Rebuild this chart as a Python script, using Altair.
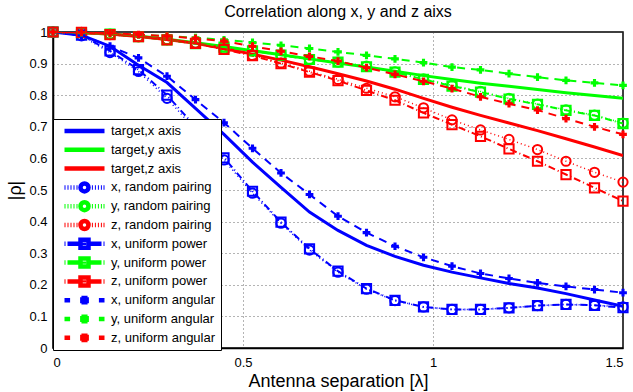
import altair as alt
import pandas as pd

# separation in wavelengths
sep = [0, 0.075, 0.15, 0.225, 0.3, 0.375, 0.45, 0.525, 0.6, 0.675, 0.75,
       0.825, 0.9, 0.975, 1.05, 1.125, 1.2, 1.275, 1.35, 1.425, 1.5]

tgt_x = [1.0, 0.99, 0.955, 0.895, 0.84, 0.758, 0.676, 0.588, 0.508, 0.43, 0.372,
         0.325, 0.29, 0.262, 0.24, 0.222, 0.204, 0.19, 0.172, 0.152, 0.132]
tgt_y = [1.0, 0.998, 0.994, 0.987, 0.977, 0.966, 0.954, 0.941, 0.928, 0.915, 0.902,
         0.889, 0.876, 0.862, 0.85, 0.838, 0.828, 0.818, 0.808, 0.799, 0.79]
tgt_z = [1.0, 0.998, 0.994, 0.986, 0.976, 0.964, 0.948, 0.93, 0.911, 0.89, 0.868,
         0.845, 0.819, 0.79, 0.762, 0.736, 0.712, 0.688, 0.662, 0.636, 0.609]

rp_x = [1.0, 0.988, 0.935, 0.875, 0.79, 0.69, 0.595, 0.49, 0.395, 0.31, 0.24,
        0.186, 0.15, 0.13, 0.122, 0.122, 0.127, 0.134, 0.138, 0.135, 0.13]
rp_y = [1.0, 0.998, 0.993, 0.985, 0.976, 0.965, 0.953, 0.941, 0.928, 0.914, 0.905,
        0.892, 0.874, 0.852, 0.831, 0.812, 0.79, 0.772, 0.754, 0.737, 0.712]
rp_z = [1.0, 0.999, 0.992, 0.985, 0.976, 0.965, 0.946, 0.926, 0.902, 0.876, 0.85,
        0.822, 0.795, 0.76, 0.722, 0.69, 0.66, 0.628, 0.591, 0.556, 0.525]

up_x = [1.0, 0.99, 0.94, 0.881, 0.8, 0.7, 0.602, 0.496, 0.398, 0.314, 0.243,
        0.188, 0.151, 0.13, 0.122, 0.122, 0.127, 0.134, 0.138, 0.135, 0.128]
up_y = [1.0, 0.998, 0.993, 0.985, 0.975, 0.963, 0.952, 0.94, 0.927, 0.913, 0.905,
        0.89, 0.873, 0.85, 0.829, 0.81, 0.788, 0.771, 0.752, 0.736, 0.71]
up_z = [1.0, 0.999, 0.992, 0.985, 0.975, 0.964, 0.945, 0.925, 0.9, 0.873, 0.846,
        0.815, 0.784, 0.744, 0.707, 0.67, 0.63, 0.591, 0.549, 0.507, 0.465]

ua_x = [1.0, 0.99, 0.955, 0.918, 0.86, 0.786, 0.713, 0.632, 0.554, 0.486, 0.417,
        0.365, 0.322, 0.287, 0.259, 0.236, 0.22, 0.206, 0.195, 0.185, 0.175]
ua_y = [1.0, 0.998, 0.995, 0.991, 0.987, 0.982, 0.975, 0.967, 0.958, 0.948, 0.937,
        0.926, 0.915, 0.903, 0.889, 0.88, 0.868, 0.857, 0.847, 0.839, 0.831]
ua_z = [1.0, 0.999, 0.996, 0.992, 0.987, 0.98, 0.971, 0.955, 0.939, 0.923, 0.908,
        0.887, 0.866, 0.844, 0.821, 0.795, 0.773, 0.753, 0.726, 0.7, 0.676]

names = ["target,x axis", "target,y axis", "target,z axis",
         "x, random pairing", "y, random pairing", "z, random pairing",
         "x, uniform power", "y, uniform power", "z, uniform power",
         "x, uniform angular", "y, uniform angular", "z, uniform angular"]
series_vals = [tgt_x, tgt_y, tgt_z, rp_x, rp_y, rp_z, up_x, up_y, up_z, ua_x, ua_y, ua_z]
groups = ["target"] * 3 + ["random"] * 3 + ["power"] * 3 + ["angular"] * 3
axis_colors = ["#0000ff", "#00ff00", "#ff0000"]
colors = axis_colors * 4

rows = []
for i, (nm, vals) in enumerate(zip(names, series_vals)):
    for j, (xv, yv) in enumerate(zip(sep, vals)):
        rows.append({"x": xv, "y": yv, "series": nm, "group": groups[i],
                     "color": colors[i], "order": i * 100 + j})
df = pd.DataFrame(rows)

# legend symbol paths (unit box -1..1)
dots_l = "M-1,0h0.05M-0.85,0h0.05M-0.7,0h0.05M-0.55,0h0.05M-0.4,0h0.05"
dots_r = "M0.37,0h0.05M0.52,0h0.05M0.67,0h0.05M0.82,0h0.05M0.95,0h0.05"
circ = "M-0.2,0A0.2,0.2 0 1,1 0.2,0A0.2,0.2 0 1,1 -0.2,0"
p_solid = "M-1,0H1"
p_random = dots_l + circ + dots_r
p_power = "M-1,0h0.05M-0.85,0H-0.2M-0.2,-0.2H0.2V0.2H-0.2ZM-0.03,-0.06V0.06M0.2,0H0.85M0.95,0h0.05"
p_ang = ("M-1,0H-0.72M-0.22,0H0.22M0,-0.22V0.22M-0.22,0.04H0.22M-0.22,-0.04H0.22"
         "M-0.04,-0.22V0.22M0.04,-0.22V0.22M0.72,0H1")
paths = [p_solid] * 3 + [p_random] * 3 + [p_power] * 3 + [p_ang] * 3
widths = [4.5] * 3 + [1.5] * 3 + [2] * 3 + [2] * 3

xs = alt.X("x:Q", scale=alt.Scale(domain=[0, 1.5], nice=False, zero=False),
           axis=alt.Axis(values=[0, 0.5, 1, 1.5], title="Antenna separation [λ]",
                         labelExpr="datum.value == 0 ? '0' : format(datum.value, '.2~f')"))
ys = alt.Y("y:Q", scale=alt.Scale(domain=[0, 1], nice=False),
           axis=alt.Axis(values=[0, 0.1, 0.2, 0.3, 0.4, 0.5, 0.6, 0.7, 0.8, 0.9, 1],
                         title="|ρ|",
                         labelExpr="datum.value == 0 ? '0' : datum.value == 1 ? '1' : format(datum.value, '.1f')"))
col = alt.Color("color:N", scale=None)

base = alt.Chart(df)

def line_layer(grp, width, dash=None):
    kw = {"strokeWidth": width, "clip": True}
    if dash is not None:
        kw["strokeDash"] = dash
    return base.transform_filter(alt.datum.group == grp).mark_line(**kw).encode(
        x=xs, y=ys, color=col, detail="series:N", order="order:Q")

l_target = line_layer("target", 3)
l_random = line_layer("random", 1.5, [1, 3])
p_random_pts = base.transform_filter(alt.datum.group == "random").mark_point(
    shape="circle", size=85, strokeWidth=2, filled=False, opacity=1).encode(x=xs, y=ys, color=col)
l_power = line_layer("power", 2, [7, 3, 1, 3])
p_power_pts = base.transform_filter(alt.datum.group == "power").mark_point(
    shape="square", size=85, strokeWidth=2, filled=False, opacity=1).encode(x=xs, y=ys, color=col)
l_ang = line_layer("angular", 2, [8, 6])
p_ang_pts = base.transform_filter(alt.datum.group == "angular").mark_point(
    shape="cross", size=60, filled=True, opacity=1).encode(x=xs, y=ys, color=col)

leg = alt.Legend(title=None, orient="none", legendX=0, legendY=87,
                 symbolSize=1600, clipHeight=14, rowPadding=4.8, padding=5,
                 symbolOffset=4, labelOffset=4, labelFont="Liberation Sans",
                 labelFontSize=13, labelColor="black", fillColor="white",
                 strokeColor="black", symbolFillColor="transparent",
                 symbolOpacity=1, labelLimit=300)
legend_layer = base.transform_filter("false").mark_point(filled=False).encode(
    x=xs, y=ys,
    color=alt.Color("series:N", scale=alt.Scale(domain=names, range=colors), legend=leg),
    shape=alt.Shape("series:N", scale=alt.Scale(domain=names, range=paths), legend=leg),
    strokeWidth=alt.StrokeWidth("series:N", scale=alt.Scale(domain=names, range=widths), legend=leg),
)

chart = alt.layer(l_target, l_random, p_random_pts, l_power, p_power_pts,
                  l_ang, p_ang_pts, legend_layer).properties(
    width=570, height=316,
    title=alt.TitleParams("Correlation along x, y and z aixs", font="Liberation Sans",
                          fontSize=16, fontWeight="normal", color="black", offset=3),
    autosize=alt.AutoSizeParams(type="none"),
    padding={"left": 53, "top": 32, "right": 10, "bottom": 44},
).configure_view(stroke="black", strokeWidth=1.5).configure_axis(
    labelFont="Liberation Sans", labelFontSize=13, labelColor="black",
    titleFont="Liberation Sans", titleFontSize=18, titleFontWeight="normal", titleColor="black",
    domainColor="black", domainWidth=1.5, ticks=False,
    gridColor="#444444", gridDash=[1, 3], gridOpacity=0.8, gridWidth=1,
).configure_axisX(labelPadding=8, titlePadding=3).configure_axisY(
    labelPadding=6, titlePadding=4)

chart.save("out.html", embed_options={"renderer": "svg", "actions": False})
